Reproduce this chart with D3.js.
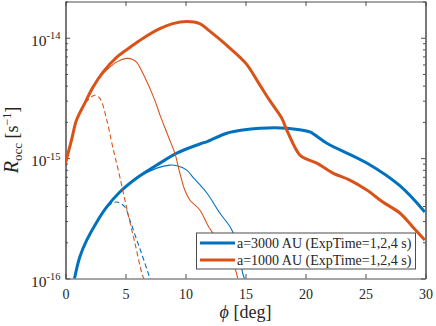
<!DOCTYPE html>
<html>
<head>
<meta charset="utf-8">
<script src="https://cdn.jsdelivr.net/npm/d3@7"></script>
<style>
    body { margin: 0; background: #fff; }
    text { font-family: "Liberation Serif", "Times New Roman", serif; fill: #262626; }
</style>
</head>
<body>
<svg id="chart" width="436" height="326"></svg>
<script>
// a=3000 AU, three exposure times (1 s thick, 2 s thin, 4 s dashed)
var phi3000_1 = [0.75, 1.19, 1.78, 2.61, 3.44, 4.53, 5.94, 7.61, 9.28, 11.19, 11.86, 13.44, 14.78, 16.19, 17.5, 18.44, 19.5, 20.36, 20.78, 21.78, 25.11, 27.86, 29.94];
var r3000_1   = [1e-16, 1.51e-16, 2.09e-16, 2.95e-16, 3.93e-16, 5.23e-16, 6.83e-16, 8.75e-16, 1.10e-15, 1.31e-15, 1.38e-15, 1.61e-15, 1.71e-15, 1.77e-15, 1.79e-15, 1.77e-15, 1.72e-15, 1.65e-15, 1.56e-15, 1.33e-15, 9.1e-16, 5.9e-16, 3.57e-16];

var phi3000_2 = [0.75, 1.19, 1.78, 2.61, 3.44, 4.53, 5.94, 7.61, 8.69, 9.36, 10.11, 10.61, 11.78, 12.86, 13.86, 14.44, 14.86, 15.1];
var r3000_2   = [1e-16, 1.51e-16, 2.09e-16, 2.95e-16, 3.93e-16, 5.23e-16, 6.8e-16, 8.26e-16, 8.75e-16, 8.6e-16, 7.95e-16, 6.96e-16, 5.13e-16, 3.5e-16, 2.53e-16, 1.63e-16, 1.03e-16, 9.5e-17];

var phi3000_4 = [0.75, 1.19, 1.78, 2.61, 3.11, 3.7, 4.28, 4.94, 5.36, 5.94, 6.44, 6.94, 7.1];
var r3000_4   = [1e-16, 1.51e-16, 2.09e-16, 2.95e-16, 3.5e-16, 4.1e-16, 4.32e-16, 3.93e-16, 3.06e-16, 2.09e-16, 1.51e-16, 1.07e-16, 9.5e-17];

// a=1000 AU
var phi1000_1 = [0, 0.5, 0.92, 1.61, 2.28, 3.11, 4.28, 5.36, 6.44, 7.86, 8.94, 10.11, 11.19, 11.94, 13.44, 15.03, 16.11, 17.03, 18.03, 18.44, 19.52, 20.11, 20.94, 22.28, 23.69, 25.11, 26.44, 27.86, 28.94, 29.94];
var r1000_1   = [9.1e-16, 1.41e-15, 2.07e-15, 2.86e-15, 3.87e-15, 5.16e-15, 6.9e-15, 8.3e-15, 9.87e-15, 1.19e-14, 1.31e-14, 1.365e-14, 1.31e-14, 1.15e-14, 8.64e-15, 6.12e-15, 4.18e-15, 3.0e-15, 2.14e-15, 1.71e-15, 1.06e-15, 9.8e-16, 9.09e-16, 7.51e-16, 6.57e-16, 5.43e-16, 4.32e-16, 3.5e-16, 2.68e-16, 2.09e-16];

var phi1000_2 = [0, 0.5, 0.92, 1.61, 2.28, 3.11, 3.44, 4.28, 5.11, 5.6, 5.94, 6.61, 7.44, 7.86, 8.69, 9.11, 9.53, 9.94, 10.36, 11.19, 11.94, 12.86, 13.86, 14.36];
var r1000_2   = [9.1e-16, 1.41e-15, 2.07e-15, 2.86e-15, 3.87e-15, 5.0e-15, 5.4e-15, 6.3e-15, 6.74e-15, 6.6e-15, 6.24e-15, 4.69e-15, 3.03e-15, 2.3e-15, 1.41e-15, 1.10e-15, 7.51e-16, 5.43e-16, 4.49e-16, 3.71e-16, 2.68e-16, 1.98e-16, 1.43e-16, 1e-16];

var phi1000_4 = [0, 0.5, 0.92, 1.61, 1.9, 2.43, 2.86, 3.44, 3.94, 4.53, 5.19, 5.78, 6.36, 6.6];
var r1000_4   = [9.1e-16, 1.41e-15, 2.07e-15, 2.86e-15, 3.05e-15, 3.33e-15, 3.14e-15, 2.07e-15, 1.23e-15, 6.96e-16, 3.5e-16, 1.98e-16, 1.11e-16, 9.5e-17];

var xTicks = [0, 5, 10, 15, 20, 25, 30];
var yMajor = [1e-16, 1e-15, 1e-14];
var yExp = ["-16", "-15", "-14"];
var legendLabels = ["a=3000 AU (ExpTime=1,2,4 s)", "a=1000 AU (ExpTime=1,2,4 s)"];

var blue = "#0072BD", orange = "#D95319", axisColor = "#4d4d4d";

var svg = d3.select("#chart");
var margin = { top: 1.5, right: 10.5, bottom: 47.5, left: 65.5 }
    , width = +svg.attr("width") - margin.left - margin.right
    , height = +svg.attr("height") - margin.top - margin.bottom;

var x = d3.scaleLinear().domain([0, 30]).range([0, width]);
var y = d3.scaleLog().domain([1e-16, 2e-14]).range([height, 0]);

var g = svg.append("g").attr("transform", `translate(${margin.left},${margin.top})`);

g.append("clipPath").attr("id", "clip")
    .append("rect").attr("width", width).attr("height", height);

var yMinor = y.ticks().filter(d => yMajor.indexOf(d) < 0);

// axes, ticks pointing inward (box on)
function styleAxis(sel) {
    sel.selectAll("path, line").attr("stroke", axisColor).attr("stroke-width", 1);
}
g.append("g").attr("transform", `translate(0,${height})`)
    .call(d3.axisBottom(x).tickValues(xTicks).tickSizeInner(-4.5).tickSizeOuter(0).tickPadding(11))
    .call(styleAxis)
    .selectAll("text").attr("font-size", 14).attr("fill", "#262626");
g.append("g")
    .call(d3.axisTop(x).tickValues(xTicks).tickSizeInner(-4.5).tickSizeOuter(0).tickFormat(""))
    .call(styleAxis);

var leftAxis = g.append("g")
    .call(d3.axisLeft(y).tickValues(yMajor).tickSizeInner(-4.5).tickSizeOuter(0).tickPadding(5))
    .call(styleAxis);
leftAxis.selectAll("text").each(function (d, i) {
    var t = d3.select(this).text("").attr("dy", "0.5em").attr("font-size", 15.5).attr("fill", "#262626");
    t.append("tspan").text("10");
    t.append("tspan").attr("font-size", 10.5).attr("dy", -6.5).text(yExp[i]);
});
g.append("g")
    .call(d3.axisLeft(y).tickValues(yMinor).tickSizeInner(-2.5).tickSizeOuter(0).tickFormat(""))
    .call(styleAxis);
g.append("g").attr("transform", `translate(${width},0)`)
    .call(d3.axisRight(y).tickValues(yMajor).tickSizeInner(-4.5).tickSizeOuter(0).tickFormat(""))
    .call(styleAxis);
g.append("g").attr("transform", `translate(${width},0)`)
    .call(d3.axisRight(y).tickValues(yMinor).tickSizeInner(-2.5).tickSizeOuter(0).tickFormat(""))
    .call(styleAxis);

// curves
var line = d3.line()
    .x(d => x(d[0]))
    .y(d => y(d[1]))
    .curve(d3.curveCatmullRom.alpha(0.5));

var series = [
    { phi: phi3000_4, r: r3000_4, color: blue, w: 1.1, dash: "5,3" },
    { phi: phi3000_2, r: r3000_2, color: blue, w: 1.1, dash: null },
    { phi: phi3000_1, r: r3000_1, color: blue, w: 3, dash: null },
    { phi: phi1000_4, r: r1000_4, color: orange, w: 1.1, dash: "5,3" },
    { phi: phi1000_2, r: r1000_2, color: orange, w: 1.1, dash: null },
    { phi: phi1000_1, r: r1000_1, color: orange, w: 3, dash: null }
];

var lines = g.append("g").attr("clip-path", "url(#clip)");
series.forEach(s => {
    lines.append("path")
        .datum(s.phi.map((p, i) => [p, s.r[i]]))
        .attr("fill", "none")
        .attr("stroke", s.color)
        .attr("stroke-width", s.w)
        .attr("stroke-dasharray", s.dash)
        .attr("d", line);
});

// legend
var legend = g.append("g").attr("transform", `translate(${width - 229},${height - 45.5})`);
legend.append("rect")
    .attr("width", 219).attr("height", 36)
    .attr("fill", "#fff").attr("stroke", axisColor).attr("stroke-width", 1);
var entries = legend.selectAll(".entry")
    .data(legendLabels)
    .enter().append("g")
    .attr("transform", (d, i) => `translate(0,${10 + i * 17})`);
entries.append("line")
    .attr("x1", 3.5).attr("x2", 38.5)
    .attr("stroke", (d, i) => i === 0 ? blue : orange)
    .attr("stroke-width", 3);
entries.append("text")
    .attr("x", 40.5).attr("dy", "0.35em")
    .attr("font-size", 14)
    .text(d => d);

// axis labels
svg.append("text")
    .attr("x", margin.left + width / 2).attr("y", 318)
    .attr("text-anchor", "middle").attr("font-size", 18)
    .call(t => {
        t.append("tspan").attr("font-style", "italic").text("\u03D5");
        t.append("tspan").text(" [deg]");
    });

svg.append("text")
    .attr("transform", "translate(18,140) rotate(-90)")
    .attr("text-anchor", "middle")
    .call(t => {
        t.append("tspan").attr("font-style", "italic").attr("font-size", 20).text("R");
        t.append("tspan").attr("font-size", 13).attr("dy", 4).text("occ");
        t.append("tspan").attr("font-size", 18).attr("dy", -4).text(" [s");
        t.append("tspan").attr("font-size", 12).attr("dy", -7).text("\u22121");
        t.append("tspan").attr("font-size", 18).attr("dy", 7).text("]");
    });
</script>
</body>
</html>
